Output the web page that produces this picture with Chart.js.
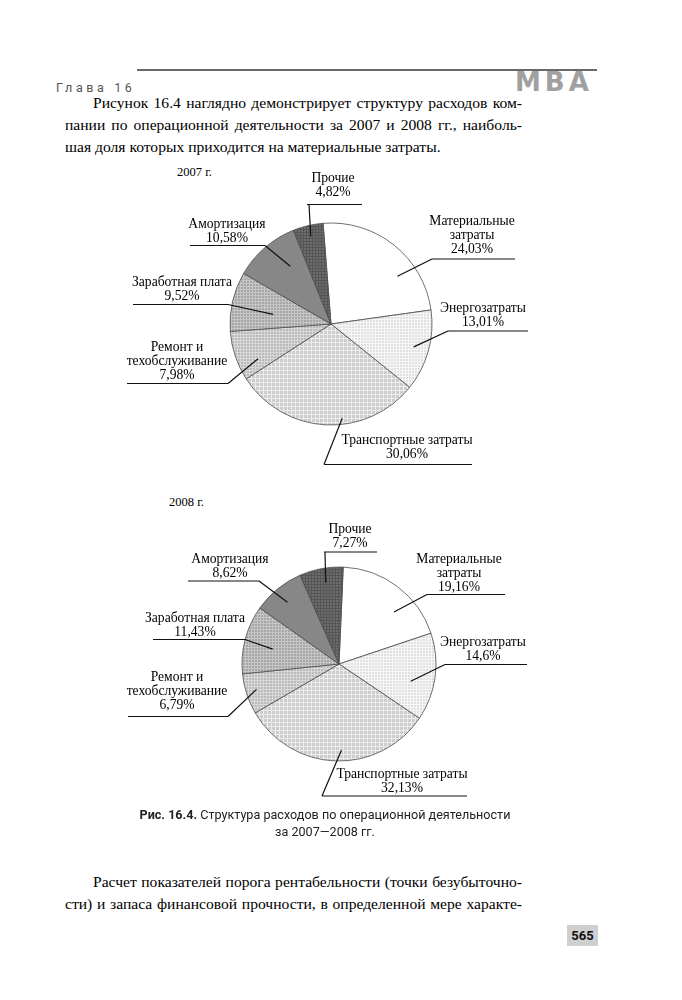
<!DOCTYPE html>
<html lang="ru">
<head>
<meta charset="utf-8">
<title>Рис. 16.4</title>
<script src="https://cdn.jsdelivr.net/npm/chart.js@4.4.0/dist/chart.umd.min.js"></script>
<style>
  html, body { margin: 0; padding: 0; background: #fff; }
  #page { position: relative; width: 682px; height: 1000px; overflow: hidden; background: #fff; }
  .abs { position: absolute; white-space: nowrap; }
  .serif { font-family: "Liberation Serif", "Times New Roman", serif; color: #000; }
  .line { position: absolute; left: 65px; width: 457px; font-size: 15.6px; line-height: 22px; }
  .just { text-align: justify; text-align-last: justify; }
  .ind { left: 93px; width: 429px; }
  #rule { position: absolute; left: 137px; top: 69px; width: 460px; height: 2px; background: #6a6a6a; }
  #chapter { left: 56px; top: 80px; font: 12.5px "Roboto", "DejaVu Sans", sans-serif; letter-spacing: 3.6px; color: #555; }
  #mba { left: 515px; top: 69px; font: bold 26px "DejaVu Sans", sans-serif; line-height: 26px; letter-spacing: 4px; color: #a0a0a0; }
  .year { font-size: 12.5px; }
  .cap { left: 0; width: 650px; text-align: center; font: 12.6px "Roboto", "DejaVu Sans", sans-serif; color: #222; }
  #pageno { left: 567px; top: 925px; width: 31px; height: 21px; background: #cfcfcf; text-align: center; font: bold 13px "Roboto", "DejaVu Sans", sans-serif; line-height: 21px; color: #111; }
  canvas { position: absolute; }
</style>
</head>
<body>
<div id="page">
  <div id="rule"></div>
  <div id="chapter" class="abs">Глава 16</div>
  <div id="mba" class="abs">MBA</div>

  <div class="line serif just ind" style="top:92px">Рисунок 16.4 наглядно демонстрирует структуру расходов ком-</div>
  <div class="line serif just" style="top:114px">пании по операционной деятельности за 2007 и 2008 гг., наиболь-</div>
  <div class="line serif" style="top:136px">шая доля которых приходится на материальные затраты.</div>

  <div class="abs serif year" style="left:177px; top:165px">2007 г.</div>
  <canvas id="chart2007" width="440" height="340" style="left:111px; top:154px"></canvas>

  <div class="abs serif year" style="left:169px; top:495px">2008 г.</div>
  <canvas id="chart2008" width="440" height="340" style="left:119px; top:494px"></canvas>

  <div class="abs cap" style="top:807px"><b>Рис. 16.4.</b> Структура расходов по операционной деятельности</div>
  <div class="abs cap" style="top:824px">за 2007—2008 гг.</div>

  <div class="line serif just ind" style="top:871px">Расчет показателей порога рентабельности (точки безубыточно-</div>
  <div class="line serif just" style="top:893px">сти) и запаса финансовой прочности, в определенной мере характе-</div>

  <div id="pageno" class="abs">565</div>
</div>

<script>
// Categories (label lines) and shares, %
var categories = [
    ['Материальные', 'затраты'],
    ['Энергозатраты'],
    ['Транспортные затраты'],
    ['Ремонт и', 'техобслуживание'],
    ['Заработная плата'],
    ['Амортизация'],
    ['Прочие']
];
var values2007 = [24.03, 13.01, 30.06, 7.98, 9.52, 10.58, 4.82];
var values2008 = [19.16, 14.6, 32.13, 6.79, 11.43, 8.62, 7.27];

// Label layout relative to pie centre:
// [text dx, percent-line dy, underline dy, underline x1, underline x2, elbow dx, anchor t in slice, anchor radius frac]
var layout2007 = [
    [141, -75, -65, 101, 184, 101, 0.68, 0.81],
    [152, -1.5, 7, 117, 197, 117, 0.50, 0.85],
    [76, 130.5, 140.5, -7, 141, -7, 0.41, 0.94],
    [-154, 51.5, 59.5, -204, -103, -103, 0.26, 0.80],
    [-149, -28, -19.5, -198, -103, -103, 0.40, 0.58],
    [-104, -86, -78.5, -141, -66, -66, 0.65, 0.70],
    [2, -131.5, -119.5, -24, 31, -22, 0.51, 0.89]
];
var layout2008 = [
    [120, -77, -69.5, 88, 166, 88, 0.64, 0.78],
    [144, -8, 0.5, 106, 188, 106, 0.61, 0.76],
    [63, 124, 132, -17, 128, -17, 0.47, 0.89],
    [-162, 41, 52.5, -211, -111, -111, 0.54, 0.89],
    [-144, -32, -24.5, -186, -94, -94, 0.45, 0.70],
    [-109, -91, -83, -151, -80, -80, 0.48, 0.83],
    [11, -121, -112, -15, 38, -14, 0.55, 0.85]
];

function gridPattern(ctx, base, line, size) {
    if (!line) return base;
    var c = document.createElement('canvas');
    c.width = size; c.height = size;
    var g = c.getContext('2d');
    g.fillStyle = base;
    g.fillRect(0, 0, size, size);
    g.fillStyle = line;
    g.fillRect(0, 0, size, 1);
    g.fillRect(0, 0, 1, size);
    return ctx.createPattern(c, 'repeat');
}

function fills(ctx) {
    return [
        '#ffffff',
        gridPattern(ctx, '#e0e0e0', '#f7f7f7', 3),
        gridPattern(ctx, '#cdcdcd', '#ededed', 4),
        gridPattern(ctx, '#bababa', '#d8d8d8', 3),
        gridPattern(ctx, '#a6a6a6', '#c6c6c6', 3),
        '#878787',
        gridPattern(ctx, '#6c6c6c', '#555555', 3)
    ];
}

function leaders(layout) {
    return {
        id: 'leaders',
        afterDatasetsDraw: function (chart) {
            var ctx = chart.ctx;
            var meta = chart.getDatasetMeta(0);
            var data = chart.data.datasets[0].data;
            ctx.save();
            ctx.font = '13.6px "Liberation Serif", serif';
            ctx.fillStyle = '#000';
            ctx.strokeStyle = '#111';
            ctx.lineWidth = 1.2;
            ctx.textAlign = 'center';
            ctx.textBaseline = 'middle';
            meta.data.forEach(function (arc, i) {
                var L = layout[i];
                var p = arc.getProps(['x', 'y', 'startAngle', 'endAngle', 'outerRadius'], true);
                var a = p.startAngle + L[6] * (p.endAngle - p.startAngle);
                var ax = p.x + Math.cos(a) * L[7] * p.outerRadius;
                var ay = p.y + Math.sin(a) * L[7] * p.outerRadius;
                var lines = chart.data.labels[i].concat([String(data[i]).replace('.', ',') + '%']);
                lines.forEach(function (t, k) {
                    ctx.fillText(t, p.x + L[0], p.y + L[1] - (lines.length - 1 - k) * 14);
                });
                ctx.beginPath();
                ctx.moveTo(p.x + L[3], p.y + L[2]);
                ctx.lineTo(p.x + L[4], p.y + L[2]);
                ctx.moveTo(p.x + L[5], p.y + L[2]);
                ctx.lineTo(ax, ay);
                ctx.stroke();
            });
            ctx.restore();
        }
    };
}

function makePie(id, values, layout, rotation, radius) {
    var ctx = document.getElementById(id).getContext('2d');
    return new Chart(ctx, {
        type: 'pie',
        data: {
            labels: categories,
            datasets: [{
                data: values,
                backgroundColor: fills(ctx),
                borderColor: '#4d4d4d',
                borderWidth: 0.8
            }]
        },
        options: {
            responsive: false,
            animation: false,
            events: [],
            rotation: rotation,
            radius: radius,
            layout: { padding: 0 },
            plugins: {
                legend: { display: false },
                tooltip: { enabled: false }
            }
        },
        plugins: [leaders(layout)]
    });
}

makePie('chart2007', values2007, layout2007, -4.5, 101);
makePie('chart2008', values2008, layout2008, 2.5, 97);
</script>
</body>
</html>
